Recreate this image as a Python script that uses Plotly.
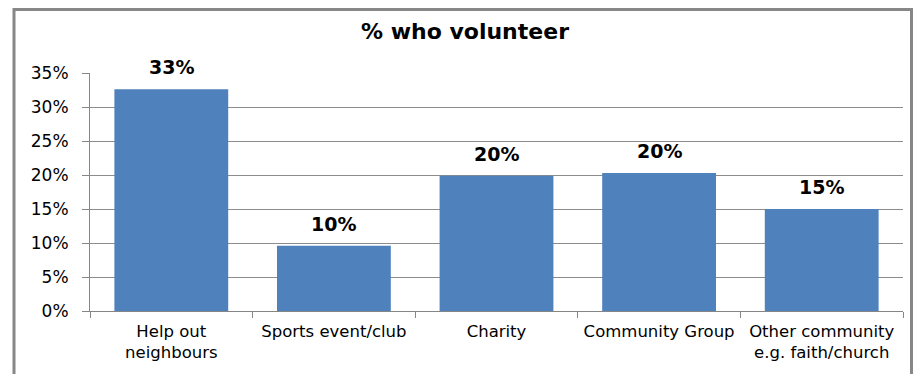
import plotly.graph_objects as go

categories = ["Help out<br>neighbours", "Sports event/club", "Charity", "Community Group", "Other community<br>e.g. faith/church"]
values = [0.326, 0.096, 0.199, 0.203, 0.150]
tick_vals = [0, 0.05, 0.10, 0.15, 0.20, 0.25, 0.30, 0.35]

FONT = "DejaVu Sans"
OFF = 8  # page body margin

W, H = 921, 374
# target page pixel positions of plot area
PL, PR, PT, PB = 90, 903, 73, 311
L = PL - OFF
R = W - (PR - OFF)
T = PT - OFF
B = H - (PB - OFF)
pw, ph = W - L - R, H - T - B

def px_x(x):
    return (x - OFF - L) / pw

def px_y(y):
    return (H - B - (y - OFF)) / ph

fig = go.Figure(go.Bar(
    x=categories, y=values,
    marker=dict(color="#4F81BD", line=dict(width=0)),
    width=0.7,
    hoverinfo="x+y",
))

for c, v in zip(categories, values):
    fig.add_annotation(x=c, y=v, text="<b>%d%%</b>" % round(v * 100),
                       showarrow=False, yanchor="bottom", yshift=9,
                       font=dict(family=FONT, size=19, color="#000000"))

fig.update_layout(
    width=W, height=H,
    margin=dict(l=L, r=R, t=T, b=B),
    paper_bgcolor="white", plot_bgcolor="white",
    title=dict(text="<b>% who volunteer</b>", x=(465 - OFF) / W, xanchor="center",
               y=1 - (31 - OFF) / H, yanchor="middle",
               font=dict(family=FONT, size=22, color="#000000")),
    showlegend=False,
    xaxis=dict(
        showline=True, linecolor="#868686", linewidth=1,
        ticks="outside", tickson="boundaries", ticklen=6, tickcolor="#868686",
        tickfont=dict(family=FONT, size=16.5, color="#000000"),
        ticklabelstandoff=5,
        showgrid=False,
    ),
    yaxis=dict(
        range=[0, 0.35], tickvals=tick_vals, tickformat=".0%",
        showline=True, linecolor="#868686", linewidth=1,
        ticks="outside", ticklen=7, tickcolor="#868686",
        ticklabelstandoff=10,
        showgrid=True, gridcolor="#8C8C8C", gridwidth=1,
        tickfont=dict(family=FONT, size=17, color="#000000"),
        zeroline=False,
    ),
    shapes=[dict(type="rect", xref="paper", yref="paper",
                 x0=px_x(14), x1=px_x(911.5), y0=px_y(390), y1=px_y(9.5),
                 line=dict(color="#878787", width=3), layer="above")],
)

fig.write_html("out.html")
